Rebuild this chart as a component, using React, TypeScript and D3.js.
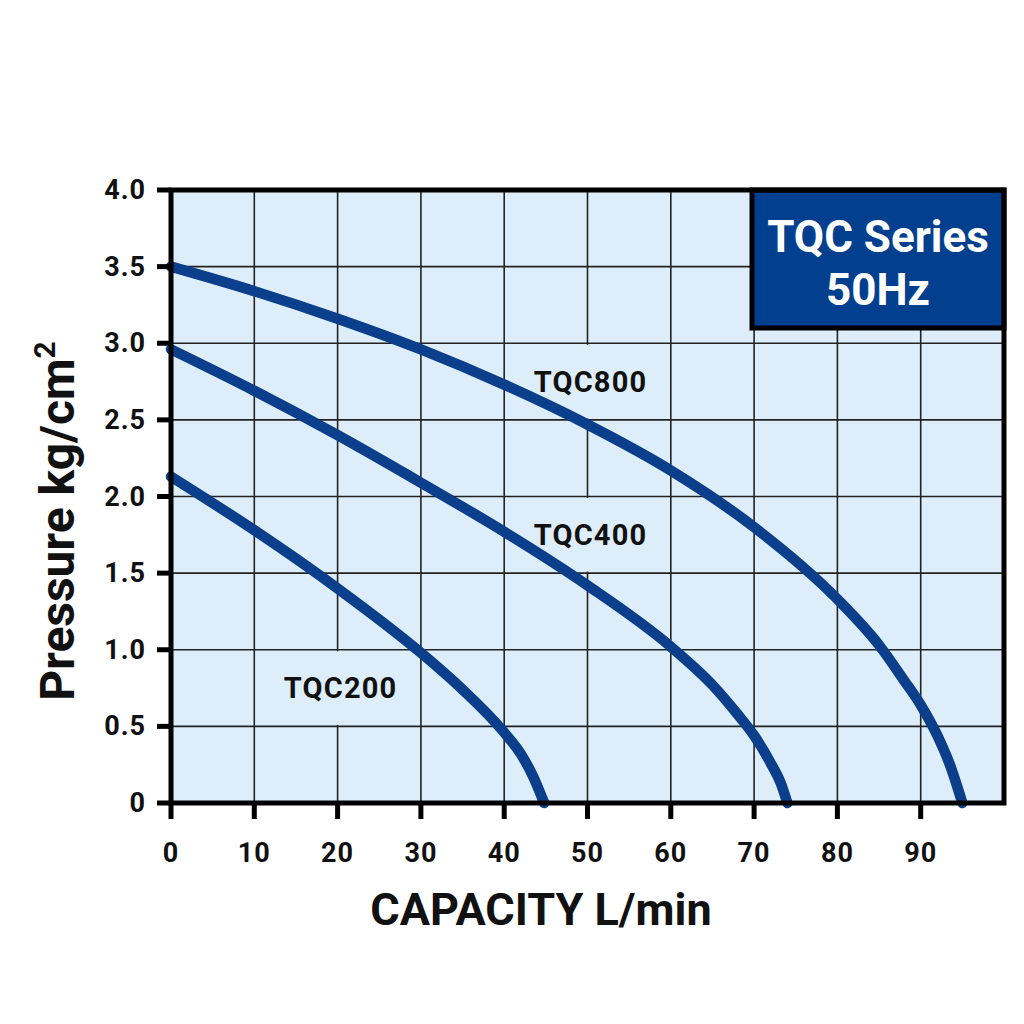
import * as d3 from 'd3';

// capacity (L/min) vs pressure (kg/cm2)
const tqc200 = [
  [0, 2.13], [10, 1.78], [20, 1.4], [30, 0.98], [35, 0.74], [40, 0.46], [42, 0.32], [43.5, 0.17],
  [44.8, 0],
];
const tqc400 = [
  [0, 2.96], [10, 2.69], [20, 2.4], [30, 2.09], [40, 1.77], [50, 1.42], [60, 1.02], [65, 0.77],
  [68, 0.58], [70, 0.44], [72, 0.26], [73.2, 0.13], [74, 0],
];
const tqc800 = [
  [0, 3.5], [10, 3.34], [20, 3.16], [30, 2.96], [40, 2.73], [50, 2.47], [60, 2.17], [70, 1.8],
  [80, 1.33], [85, 1.03], [88, 0.8], [90, 0.64], [92, 0.44], [93.5, 0.25], [95, 0],
];
const seriesList = [tqc200, tqc400, tqc800];

// label text, label center (data units), cell it sits in [x0, x1, y0, y1]
const curveLabels = [
  { text: 'TQC800', x: 50, y: 2.75, cell: [40, 60, 2.5, 3.0] },
  { text: 'TQC400', x: 50, y: 1.75, cell: [40, 60, 1.5, 2.0] },
  { text: 'TQC200', x: 20, y: 0.75, cell: [10, 30, 0.5, 1.0] },
];

const xTicks = [0, 10, 20, 30, 40, 50, 60, 70, 80, 90];
const xGrid = [10, 20, 30, 40, 50, 60, 70, 80, 90];
const yTicks = [0, 0.5, 1.0, 1.5, 2.0, 2.5, 3.0, 3.5, 4.0];
const yTickLabels = ['0', '0.5', '1.0', '1.5', '2.0', '2.5', '3.0', '3.5', '4.0'];

const titleLines = ['TQC Series', '50Hz'];

const FONT = 'Roboto, "Liberation Sans", Arial, sans-serif';
const CURVE_COLOR = '#0b3f8c';
const BG = '#ddeefa';

export default function App() {
  const x = d3.scaleLinear().domain([0, 100]).range([171, 1004]);
  const y = d3.scaleLinear().domain([0, 4]).range([803, 190]);

  const line = d3
    .line<number[]>()
    .x((d) => x(d[0]))
    .y((d) => y(d[1]))
    .curve(d3.curveMonotoneX);

  const boxX0 = 752;
  const boxY1 = 328;

  return (
    <svg
      width={1024}
      height={1024}
      style={{ position: 'absolute', left: 0, top: 0, background: '#fff' }}
      fontFamily={FONT}
    >
      {/* plot background */}
      <rect x={x(0)} y={y(4)} width={x(100) - x(0)} height={y(0) - y(4)} fill={BG} />

      {/* grid */}
      {xGrid.map((v) => (
        <line key={'gx' + v} x1={x(v)} x2={x(v)} y1={y(4)} y2={y(0)} stroke="#222" strokeWidth={1.6} />
      ))}
      {yTicks.slice(1, -1).map((v) => (
        <line key={'gy' + v} x1={x(0)} x2={x(100)} y1={y(v)} y2={y(v)} stroke="#222" strokeWidth={1.6} />
      ))}

      {/* label backing cells hide the grid segments behind the labels */}
      {curveLabels.map((l) => (
        <rect
          key={'bg' + l.text}
          x={x(l.cell[0]) + 1.5}
          width={x(l.cell[1]) - x(l.cell[0]) - 3}
          y={y(l.cell[3]) + 1.5}
          height={y(l.cell[2]) - y(l.cell[3]) - 3}
          fill={BG}
        />
      ))}

      {/* curves */}
      {seriesList.map((s, i) => (
        <path
          key={'c' + i}
          d={line(s) ?? ''}
          fill="none"
          stroke={CURVE_COLOR}
          strokeWidth={10.5}
          strokeLinecap="round"
        />
      ))}

      {curveLabels.map((l) => (
        <text
          key={l.text}
          x={x(l.x) + 3}
          y={y(l.y)}
          textAnchor="middle"
          dominantBaseline="central"
          fontSize={29}
          letterSpacing={1.2}
          fontWeight="bold"
          fill="#111"
        >
          {l.text}
        </text>
      ))}

      {/* series badge */}
      <rect
        x={boxX0}
        y={y(4)}
        width={x(100) - boxX0}
        height={boxY1 - y(4)}
        fill="#033f8f"
        stroke="#000"
        strokeWidth={5}
      />
      {titleLines.map((t, i) => (
        <text
          key={t}
          x={(boxX0 + x(100)) / 2}
          y={252 + i * 53}
          textAnchor="middle"
          fontSize={44}
          fontWeight="bold"
          fill="#fff"
        >
          {t}
        </text>
      ))}

      {/* frame */}
      <rect
        x={x(0)}
        y={y(4)}
        width={x(100) - x(0)}
        height={y(0) - y(4)}
        fill="none"
        stroke="#000"
        strokeWidth={5}
      />

      {/* y ticks */}
      {yTicks.map((v, i) => (
        <g key={'yt' + v}>
          <line x1={x(0) - 14} x2={x(0)} y1={y(v)} y2={y(v)} stroke="#000" strokeWidth={5} />
          <text
            x={x(0) - 25}
            y={y(v)}
            textAnchor="end"
            dominantBaseline="central"
            fontSize={27}
            letterSpacing={1}
            fontWeight="bold"
            fill="#111"
          >
            {yTickLabels[i]}
          </text>
        </g>
      ))}

      {/* x ticks */}
      {xTicks.map((v) => (
        <g key={'xt' + v}>
          <line x1={x(v)} x2={x(v)} y1={y(0)} y2={y(0) + 16} stroke="#000" strokeWidth={5} />
          <text
            x={x(v)}
            y={862}
            textAnchor="middle"
            fontSize={27}
            letterSpacing={1}
            fontWeight="bold"
            fill="#111"
          >
            {v}
          </text>
        </g>
      ))}

      {/* axis titles */}
      <text x={541} y={925} textAnchor="middle" fontSize={45} fontWeight="bold" fill="#111">
        CAPACITY L/min
      </text>
      <text
        transform="translate(74, 521) rotate(-90)"
        textAnchor="middle"
        fontSize={48}
        fontWeight="bold"
        fill="#111"
      >
        Pressure  kg/cm
        <tspan dy={-19} fontSize={30}>
          2
        </tspan>
      </text>
    </svg>
  );
}
